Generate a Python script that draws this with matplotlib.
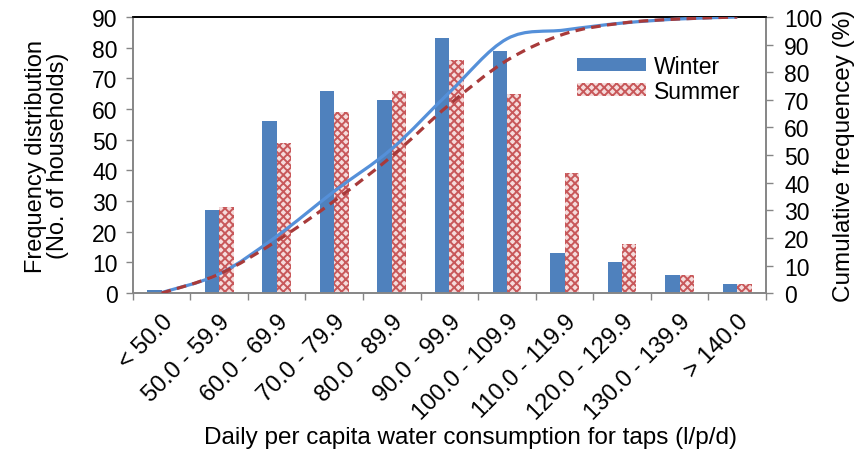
import numpy as np
import matplotlib.pyplot as plt
from matplotlib.path import Path
from matplotlib.patches import PathPatch

plt.rcParams['font.family'] = ['Liberation Sans', 'DejaVu Sans']
plt.rcParams['hatch.linewidth'] = 1.4

categories = ['< 50.0', '50.0 - 59.9', '60.0 - 69.9', '70.0 - 79.9', '80.0 - 89.9',
              '90.0 - 99.9', '100.0 - 109.9', '110.0 - 119.9', '120.0 - 129.9',
              '130.0 - 139.9', '> 140.0']
winter = [1, 27, 56, 66, 63, 83, 79, 13, 10, 6, 3]
summer = [0, 28, 49, 59, 66, 76, 65, 39, 16, 6, 3]
winter_cum = [0.2, 6.9, 20.6, 36.9, 52.3, 72.7, 92.1, 95.3, 97.8, 99.3, 100.0]
summer_cum = [0.0, 6.9, 18.9, 33.4, 49.6, 68.3, 84.3, 93.9, 97.8, 99.3, 100.0]

BLUE = '#4f81bd'
RED = '#c8585a'
GRAY = '#868686'
FS = 16.5


def smooth_path(xs, ys):
    # Excel style smoothed line: Catmull-Rom segments drawn as cubic beziers
    pts = np.column_stack([xs, ys]).astype(float)
    ext = np.vstack([pts[0], pts, pts[-1]])
    verts = [tuple(pts[0])]
    codes = [Path.MOVETO]
    for i in range(1, len(ext) - 2):
        p0, p1, p2, p3 = ext[i - 1], ext[i], ext[i + 1], ext[i + 2]
        c1 = p1 + (p2 - p0) / 6.0
        c2 = p2 - (p3 - p1) / 6.0
        verts += [tuple(c1), tuple(c2), tuple(p2)]
        codes += [Path.CURVE4] * 3
    return Path(verts, codes)


x = np.arange(len(categories))
w = 0.25

fig = plt.figure(figsize=(8.68, 4.56), dpi=100)
ax = fig.add_axes([0.153, 0.355, 0.7295, 0.6055])

ax.bar(x - w / 2, winter, w, color=BLUE, label='Winter', zorder=2)
ax.bar(x + w / 2, summer, w, facecolor='#f5dcdc', edgecolor=RED, hatch='xxxx',
       linewidth=0, label='Summer', zorder=2)

ax.set_xlim(-0.5, len(categories) - 0.5)
ax.set_ylim(0, 90)
ax.set_yticks(range(0, 91, 10))
ax.set_xticks(x)
ax.set_xticklabels(categories, rotation=45, ha='right', rotation_mode='anchor')
ax.set_xticks(np.arange(-0.5, len(categories)), minor=True)
ax.tick_params(axis='x', which='major', length=0, pad=12, labelsize=17)
ax.tick_params(axis='x', which='minor', length=5, color=GRAY, width=1)
ax.tick_params(axis='y', length=5, color=GRAY, width=1, labelsize=FS, pad=6)
ax.set_ylabel('Frequency distribution\n(No. of households)', fontsize=17,
              linespacing=1.0)
ax.yaxis.set_label_coords(-0.1, 0.5)
ax.set_xlabel('Daily per capita water consumption for taps (l/p/d)',
              fontsize=17.5)
ax.xaxis.set_label_coords(0.534, -0.48)

ax2 = ax.twinx()
ax2.set_ylim(0, 100)
ax2.set_yticks(range(0, 101, 10))
ax2.tick_params(axis='y', length=5, color=GRAY, width=1, labelsize=FS, pad=8)
ax2.set_ylabel('Cumulative frequencey (%)', fontsize=17.5, labelpad=8)

ax2.add_patch(PathPatch(smooth_path(x, winter_cum), fill=False,
                        edgecolor='#5590d9', linewidth=2.3, zorder=3))
ax2.add_patch(PathPatch(smooth_path(x, summer_cum), fill=False,
                        edgecolor='#a83a3a', linewidth=2.3, linestyle=(0, (3, 2)),
                        zorder=3))

for a in (ax, ax2):
    for s in ('left', 'right', 'bottom'):
        a.spines[s].set_color(GRAY)
        a.spines[s].set_linewidth(1.2)
    a.spines['top'].set_color('black')
    a.spines['top'].set_linewidth(1.2)

ax.legend(loc='upper right', bbox_to_anchor=(0.978, 0.905), frameon=False,
          fontsize=FS, handlelength=3.0, handleheight=0.45, labelspacing=0.08,
          handletextpad=0.35, borderpad=0)

fig.savefig('out.png', dpi=100)
